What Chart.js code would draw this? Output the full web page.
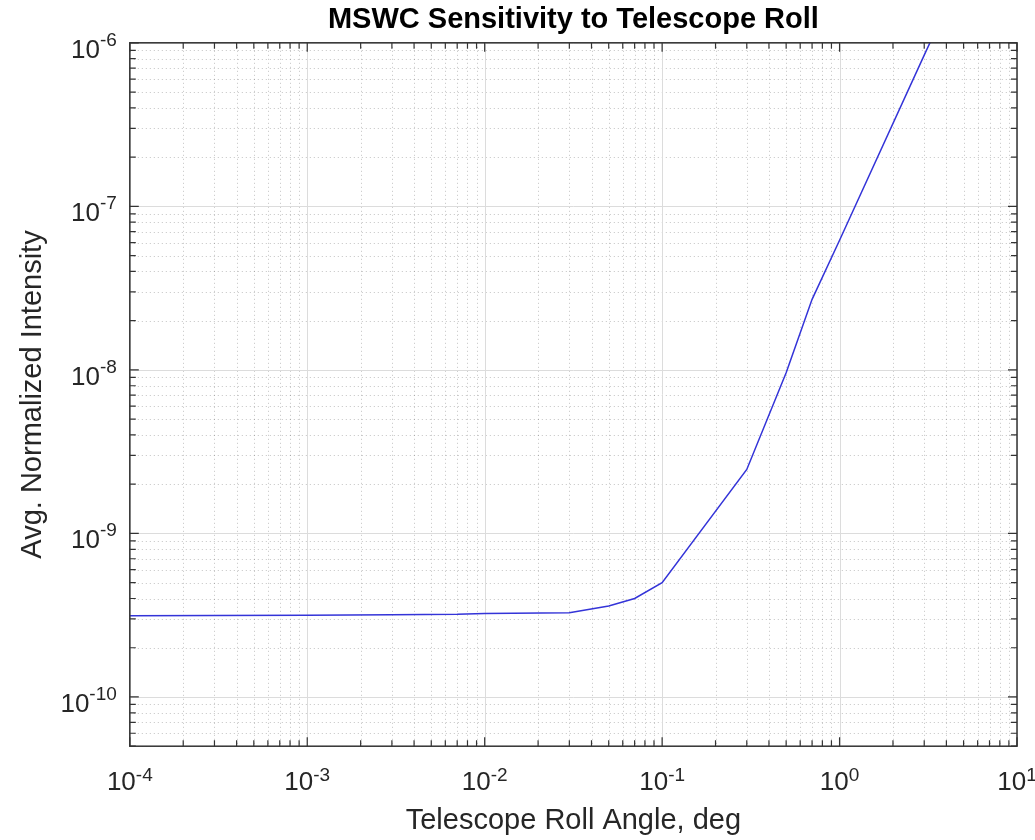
<!DOCTYPE html>
<html>
<head>
<meta charset="utf-8">
<script src="https://cdn.jsdelivr.net/npm/chart.js@4.4.0/dist/chart.umd.min.js"></script>
<style>
  html, body { margin: 0; padding: 0; background: #fff; }
  #wrap { width: 1035px; height: 840px; }
</style>
</head>
<body>
<div id="wrap"><canvas id="chart"></canvas></div>
<script>
// data
const rollAngle = [1e-4, 3e-4, 1e-3, 3e-3, 7e-3, 0.01, 0.03, 0.05, 0.07, 0.1, 0.3, 0.5, 0.7, 1, 3, 5];
const intensity = [3.14e-10, 3.15e-10, 3.16e-10, 3.18e-10, 3.2e-10, 3.24e-10, 3.27e-10, 3.6e-10, 4.0e-10, 5.0e-10, 2.46e-9, 9.6e-9, 2.7e-8, 6.2e-8, 8.4e-7, 2.8e-6];
const xTickExp = [-4, -3, -2, -1, 0, 1];
const yTickExp = [-10, -9, -8, -7, -6];

const FONT = "'Liberation Sans', Arial, Helvetica, sans-serif";
const textColor = '#262626';
const lineColor = '#3434d8';

// standard 1..9 per decade ticks (chart.js v4 adds 15/150 ticks otherwise)
function decadeTicks(scale) {
  const ticks = [];
  const lo = Math.floor(Math.log10(scale.min)), hi = Math.ceil(Math.log10(scale.max));
  for (let e = lo; e <= hi; e++) {
    for (let m = 1; m < 10; m++) {
      const v = m * Math.pow(10, e);
      if (v >= scale.min * 0.999 && v <= scale.max * 1.001) ticks.push({ value: v, major: m === 1 });
    }
  }
  scale.ticks = ticks;
}

// matlab-style grid, box, inward ticks and 10^n labels
const logAxes = {
  id: 'logAxes',
  beforeDatasetsDraw(chart) {
    const { ctx, chartArea: a, scales: { x, y } } = chart;
    ctx.save();
    ctx.lineWidth = 1;
    // minor dotted
    ctx.strokeStyle = 'rgba(38,38,38,0.28)';
    ctx.setLineDash([1, 3]);
    ctx.beginPath();
    x.ticks.filter(t => !t.major).forEach(t => {
      const px = Math.round(x.getPixelForValue(t.value)) + 0.5;
      ctx.moveTo(px, a.top); ctx.lineTo(px, a.bottom);
    });
    y.ticks.filter(t => !t.major).forEach(t => {
      const py = Math.round(y.getPixelForValue(t.value)) + 0.5;
      ctx.moveTo(a.left, py); ctx.lineTo(a.right, py);
    });
    ctx.stroke();
    // major solid
    ctx.setLineDash([]);
    ctx.strokeStyle = '#dcdcdc';
    ctx.beginPath();
    x.ticks.filter(t => t.major).forEach(t => {
      const px = Math.round(x.getPixelForValue(t.value)) + 0.5;
      ctx.moveTo(px, a.top); ctx.lineTo(px, a.bottom);
    });
    y.ticks.filter(t => t.major).forEach(t => {
      const py = Math.round(y.getPixelForValue(t.value)) + 0.5;
      ctx.moveTo(a.left, py); ctx.lineTo(a.right, py);
    });
    ctx.stroke();
    ctx.restore();
  },
  afterDatasetsDraw(chart) {
    const { ctx, chartArea: a, scales: { x, y } } = chart;
    ctx.save();
    ctx.strokeStyle = '#333';
    ctx.lineWidth = 1.5;
    ctx.strokeRect(a.left, a.top, a.right - a.left, a.bottom - a.top);
    ctx.lineWidth = 1.2;
    ctx.beginPath();
    x.ticks.forEach(t => {
      const px = x.getPixelForValue(t.value), len = t.major ? 9 : 6;
      ctx.moveTo(px, a.bottom); ctx.lineTo(px, a.bottom - len);
      ctx.moveTo(px, a.top); ctx.lineTo(px, a.top + len);
    });
    y.ticks.forEach(t => {
      const py = y.getPixelForValue(t.value), len = t.major ? 9 : 6;
      ctx.moveTo(a.left, py); ctx.lineTo(a.left + len, py);
      ctx.moveTo(a.right, py); ctx.lineTo(a.right - len, py);
    });
    ctx.stroke();

    // tick labels with superscript exponents
    const base = '26px ' + FONT, sup = '19px ' + FONT;
    ctx.fillStyle = textColor;
    ctx.textBaseline = 'alphabetic';
    ctx.textAlign = 'left';
    xTickExp.forEach(e => {
      const px = x.getPixelForValue(Math.pow(10, e));
      ctx.font = base; const w1 = ctx.measureText('10').width;
      ctx.font = sup; const w2 = ctx.measureText(String(e)).width;
      const x0 = px - (w1 + w2) / 2;
      ctx.font = base; ctx.fillText('10', x0, a.bottom + 44);
      ctx.font = sup; ctx.fillText(String(e), x0 + w1, a.bottom + 35);
    });
    yTickExp.forEach(e => {
      const py = y.getPixelForValue(Math.pow(10, e));
      ctx.font = base; const w1 = ctx.measureText('10').width;
      ctx.font = sup; const w2 = ctx.measureText(String(e)).width;
      const x0 = a.left - 13 - w1 - w2;
      ctx.font = base; ctx.fillText('10', x0, py + 15);
      ctx.font = sup; ctx.fillText(String(e), x0 + w1, py + 3);
    });
    ctx.restore();
  }
};

new Chart(document.getElementById('chart'), {
  type: 'line',
  data: {
    datasets: [{
      data: rollAngle.map((v, i) => ({ x: v, y: intensity[i] })),
      borderColor: lineColor, borderWidth: 1.5, pointRadius: 0, tension: 0, fill: false
    }]
  },
  options: {
    responsive: true, maintainAspectRatio: false, animation: false,
    layout: { padding: { right: 18 } },
    plugins: {
      legend: { display: false },
      tooltip: { enabled: false },
      title: {
        display: true, fullSize: false, text: 'MSWC Sensitivity to Telescope Roll',
        color: '#000', font: { family: FONT, size: 29, weight: 'bold' },
        padding: { top: 3, bottom: 5 }
      }
    },
    scales: {
      x: {
        type: 'logarithmic', min: 1e-4, max: 10,
        afterBuildTicks: decadeTicks,
        ticks: { display: false, autoSkip: false },
        grid: { display: false, drawTicks: false },
        border: { display: false },
        title: { display: true, text: 'Telescope Roll Angle, deg', color: textColor,
                 font: { family: FONT, size: 29 }, padding: { top: 57, bottom: 2 } }
      },
      y: {
        type: 'logarithmic', min: 5e-11, max: 1e-6,
        afterBuildTicks: decadeTicks,
        ticks: { display: false, autoSkip: false },
        grid: { display: false, drawTicks: false },
        border: { display: false },
        title: { display: true, text: 'Avg. Normalized Intensity', color: textColor,
                 font: { family: FONT, size: 29 }, padding: { top: 16, bottom: 79 } }
      }
    }
  },
  plugins: [logAxes]
});
</script>
</body>
</html>
